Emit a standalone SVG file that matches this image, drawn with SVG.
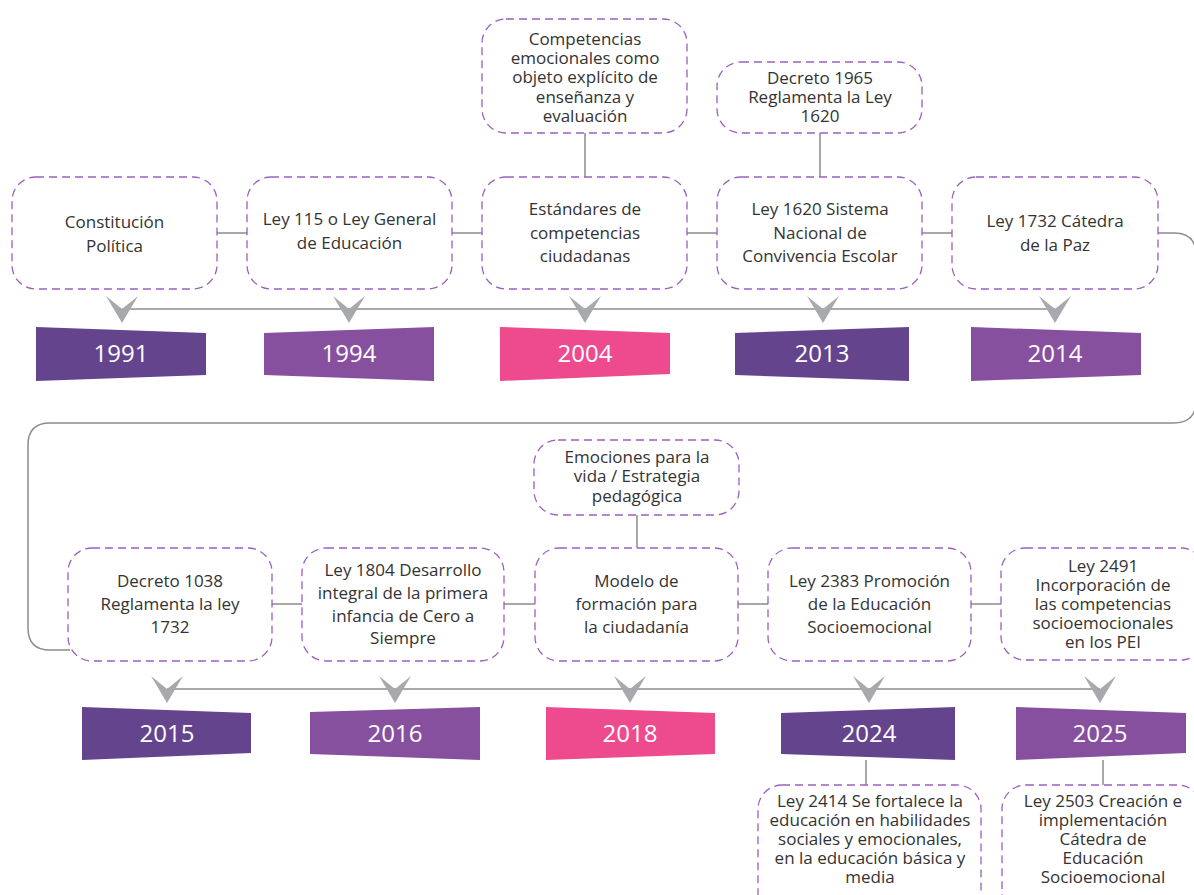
<svg xmlns="http://www.w3.org/2000/svg" width="1194" height="895" viewBox="0 0 1194 895">
<style>
.box{fill:#fff;stroke:#9b5fc0;stroke-width:1.3;stroke-dasharray:8 5}
.ln{fill:none;stroke:#8c8c8c;stroke-width:1.5}
.arr{fill:#a7a9ac}
.t{font-family:"Open Sans","Liberation Sans",sans-serif;font-size:17px;fill:#333;text-anchor:middle}
.y{font-family:"Open Sans","Liberation Sans",sans-serif;font-size:24px;fill:#fff;text-anchor:middle}
.dk{fill:#65448e}
.lt{fill:#87509e}
.pk{fill:#ee4b8f}
</style>
<rect width="1194" height="895" fill="#fff"/>
<g id="connectors">
<path class="ln" d="M217 233H247M452 233H482M687 233H717M922 233H952"/>
<path class="ln" d="M585 133V177M820 133V177"/>
<path class="ln" d="M122 309H1055"/>
<path class="ln" d="M1158 233H1174Q1196 233 1196 255V401Q1196 423 1174 423H50Q28 423 28 445V628Q28 650 50 650H70"/>
<path class="ln" d="M272 604H302M504 604H535M738 604H768M971 604H1001"/>
<path class="ln" d="M637 515V548"/>
<path class="ln" d="M167 689H1100"/>
<path class="ln" d="M866 760V786M1103 760V786"/>
<g class="arr">
<polygon points="106,296 122,309 138,296 122,323"/>
<polygon points="333,296 349,309 365,296 349,323"/>
<polygon points="569,296 585,309 601,296 585,323"/>
<polygon points="807,296 823,309 839,296 823,323"/>
<polygon points="1039,296 1055,309 1071,296 1055,323"/>
<polygon points="151,676 167,689 183,676 167,703"/>
<polygon points="379,676 395,689 411,676 395,703"/>
<polygon points="614,676 630,689 646,676 630,703"/>
<polygon points="853,676 869,689 885,676 869,703"/>
<polygon points="1084,676 1100,689 1116,676 1100,703"/>
</g>
</g>
<g id="n-constitucion"><rect class="box" x="12" y="177" width="205" height="112" rx="24"/><text class="t" x="114.5" y="228">Constitución</text><text class="t" x="114.5" y="252">Política</text></g>
<g id="n-ley115"><rect class="box" x="247" y="177" width="205" height="112" rx="24"/><text class="t" x="349.5" y="225">Ley 115 o Ley General</text><text class="t" x="349.5" y="249">de Educación</text></g>
<g id="n-estandares"><rect class="box" x="482" y="177" width="205" height="112" rx="24"/><text class="t" x="585" y="215">Estándares de</text><text class="t" x="585" y="238.5">competencias</text><text class="t" x="585" y="262">ciudadanas</text></g>
<g id="n-ley1620"><rect class="box" x="717" y="177" width="205" height="112" rx="24"/><text class="t" x="820" y="215">Ley 1620 Sistema</text><text class="t" x="820" y="238.5">Nacional de</text><text class="t" x="820" y="262">Convivencia Escolar</text></g>
<g id="n-ley1732"><rect class="box" x="952" y="177" width="206" height="112" rx="24"/><text class="t" x="1055" y="227">Ley 1732 Cátedra</text><text class="t" x="1055" y="251">de la Paz</text></g>
<g id="n-competencias"><rect class="box" x="482" y="19" width="205" height="114" rx="24"/><text class="t" x="585" y="45">Competencias</text><text class="t" x="585" y="64.2">emocionales como</text><text class="t" x="585" y="83.4">objeto explícito de</text><text class="t" x="585" y="102.6">enseñanza y</text><text class="t" x="585" y="121.8">evaluación</text></g>
<g id="n-decreto1965"><rect class="box" x="717" y="62" width="205" height="71" rx="24"/><text class="t" x="820" y="84">Decreto 1965</text><text class="t" x="820" y="103">Reglamenta la Ley</text><text class="t" x="820" y="122">1620</text></g>
<g id="y1991"><polygon class="dk" points="36,327 206,333 206,375 36,381"/><text class="y" x="121" y="362">1991</text></g>
<g id="y1994"><polygon class="lt" points="264,333 434,327 434,381 264,375"/><text class="y" x="349" y="362">1994</text></g>
<g id="y2004"><polygon class="pk" points="500,327 670,333 670,374 500,381"/><text class="y" x="585" y="362">2004</text></g>
<g id="y2013"><polygon class="dk" points="735,333 909,327 909,381 735,375"/><text class="y" x="822" y="362">2013</text></g>
<g id="y2014"><polygon class="lt" points="971,327 1141,333 1141,375 971,381"/><text class="y" x="1055" y="362">2014</text></g>
<g id="n-decreto1038"><rect class="box" x="68" y="548" width="204" height="113" rx="24"/><text class="t" x="170" y="587">Decreto 1038</text><text class="t" x="170" y="610">Reglamenta la ley</text><text class="t" x="170" y="633">1732</text></g>
<g id="n-ley1804"><rect class="box" x="302" y="548" width="202" height="113" rx="24"/><text class="t" x="403" y="576">Ley 1804 Desarrollo</text><text class="t" x="403" y="599">integral de la primera</text><text class="t" x="403" y="622">infancia de Cero a</text><text class="t" x="403" y="644">Siempre</text></g>
<g id="n-modelo"><rect class="box" x="535" y="548" width="203" height="113" rx="24"/><text class="t" x="636.5" y="587">Modelo de</text><text class="t" x="636.5" y="610">formación para</text><text class="t" x="636.5" y="633">la ciudadanía</text></g>
<g id="n-emociones"><rect class="box" x="534" y="440" width="205" height="75" rx="24"/><text class="t" x="637" y="463">Emociones para la</text><text class="t" x="637" y="482">vida / Estrategia</text><text class="t" x="637" y="502">pedagógica</text></g>
<g id="n-ley2383"><rect class="box" x="768" y="548" width="203" height="113" rx="24"/><text class="t" x="869.5" y="587">Ley 2383 Promoción</text><text class="t" x="869.5" y="610">de la Educación</text><text class="t" x="869.5" y="633">Socioemocional</text></g>
<g id="n-ley2491"><rect class="box" x="1001" y="548" width="204" height="112" rx="24"/><text class="t" x="1103" y="572">Ley 2491</text><text class="t" x="1103" y="591">Incorporación de</text><text class="t" x="1103" y="610">las competencias</text><text class="t" x="1103" y="629">socioemocionales</text><text class="t" x="1103" y="648">en los PEI</text></g>
<g id="y2015"><polygon class="dk" points="82,707 251,713 251,753 82,760"/><text class="y" x="167" y="742">2015</text></g>
<g id="y2016"><polygon class="lt" points="310,712 480,707 480,760 310,754"/><text class="y" x="395" y="742">2016</text></g>
<g id="y2018"><polygon class="pk" points="546,707 715,713 715,754 546,760"/><text class="y" x="630" y="742">2018</text></g>
<g id="y2024"><polygon class="dk" points="781,713 955,707 955,760 781,754"/><text class="y" x="869" y="742">2024</text></g>
<g id="y2025"><polygon class="lt" points="1016,707 1186,713 1186,753 1016,760"/><text class="y" x="1100" y="742">2025</text></g>
<g id="n-ley2414"><rect class="box" x="758" y="785" width="223" height="140" rx="24"/><text class="t" x="870" y="807">Ley 2414 Se fortalece la</text><text class="t" x="870" y="826">educación en habilidades</text><text class="t" x="870" y="845">sociales y emocionales,</text><text class="t" x="870" y="864">en la educación básica y</text><text class="t" x="870" y="883">media</text></g>
<g id="n-ley2503"><rect class="box" x="1002" y="785" width="200" height="140" rx="24"/><text class="t" x="1103" y="807">Ley 2503 Creación e</text><text class="t" x="1103" y="826">implementación</text><text class="t" x="1103" y="845">Cátedra de</text><text class="t" x="1103" y="864">Educación</text><text class="t" x="1103" y="883">Socioemocional</text></g>
</svg>
